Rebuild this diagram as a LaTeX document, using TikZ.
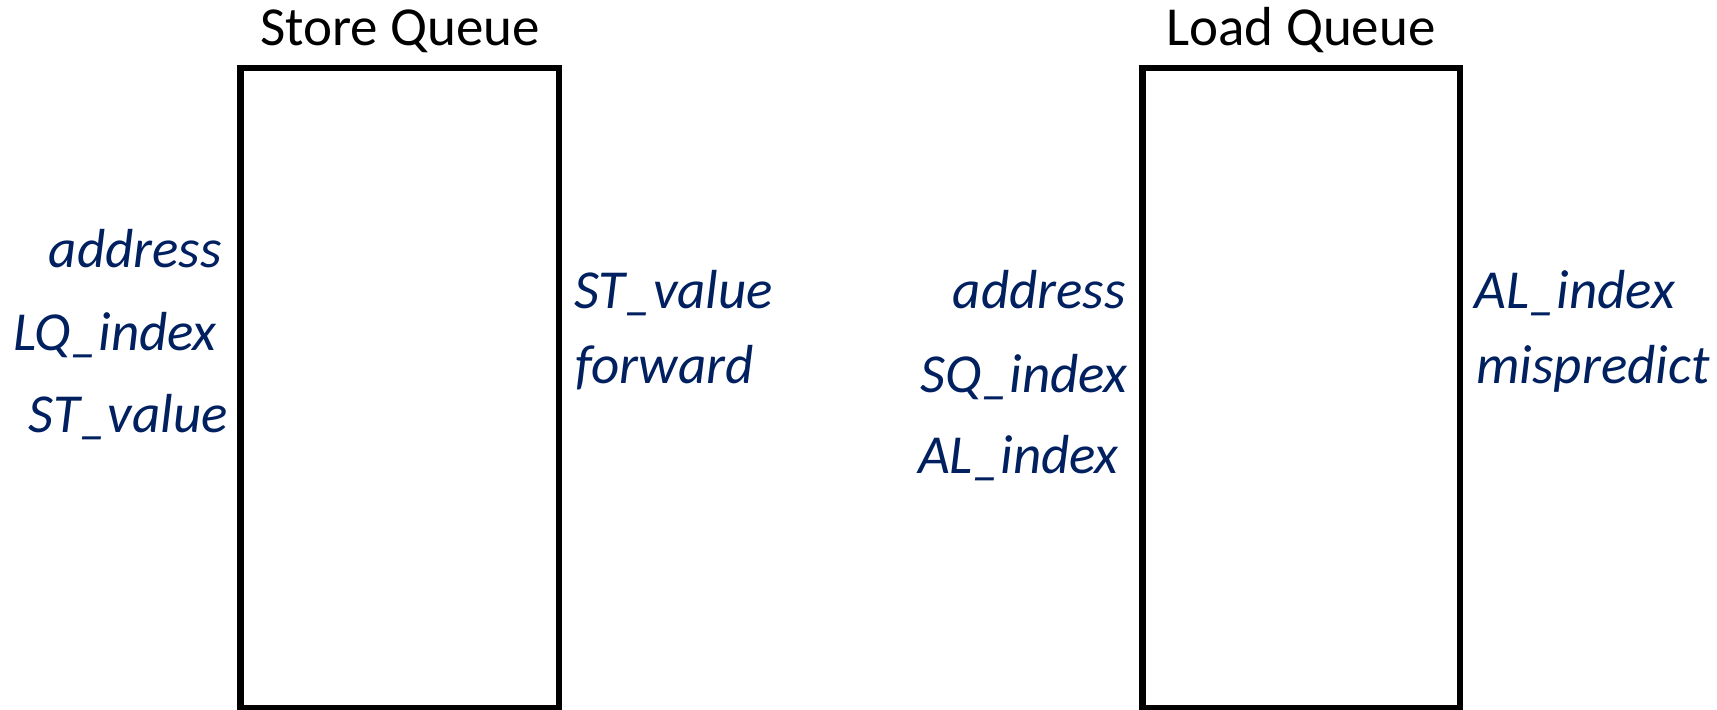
\documentclass[tikz,border=0pt]{standalone}
\usepackage{fontspec}
\setmainfont{Carlito}
\definecolor{sig}{HTML}{002060}
\tikzset{
  x=0.5pt, y=-0.5pt,
  qbox/.style={draw=black, line width=3.35pt, fill=white, inner sep=0pt, outer sep=0pt},
  qtitle/.style={font=\fontsize{27.5}{33}\selectfont, text=black, inner sep=0pt, anchor=base},
  sigL/.style={font=\fontsize{27.5}{33}\selectfont\itshape, text=sig, inner sep=0pt, anchor=base east},
  sigR/.style={font=\fontsize{27.5}{33}\selectfont\itshape, text=sig, inner sep=0pt, anchor=base west},
}
\begin{document}
\begin{tikzpicture}
\useasboundingbox (0,0) rectangle (1717,709);
% store queue
\node[qbox, minimum width=159.25pt, minimum height=320pt] (sq) at (399.75,388) {};
\node[qtitle] (sqt) at (400,45) {Store Queue};
\node[sigL] (sqa) at (222,267) {address};
\node[sigL] (sql) at (217,350) {LQ\_index};
\node[sigL] (sqv) at (228,432) {ST\_value};
\node[sigR] (sqo) at (574,308) {ST\_value};
\node[sigR] (sqf) at (575,383) {forward};
% load queue
\node[qbox, minimum width=158.85pt, minimum height=320pt] (lq) at (1301.2,388) {};
\node[qtitle] (lqt) at (1301,45) {Load Queue};
\node[sigL] (lqa) at (1126,308) {address};
\node[sigL] (lqs) at (1128,392) {SQ\_index};
\node[sigL] (lqi) at (1119,473) {AL\_index};
\node[sigR] (lqo) at (1474,308) {AL\_index};
\node[sigR] (lqm) at (1476,383) {mispredict};
\end{tikzpicture}
\end{document}
